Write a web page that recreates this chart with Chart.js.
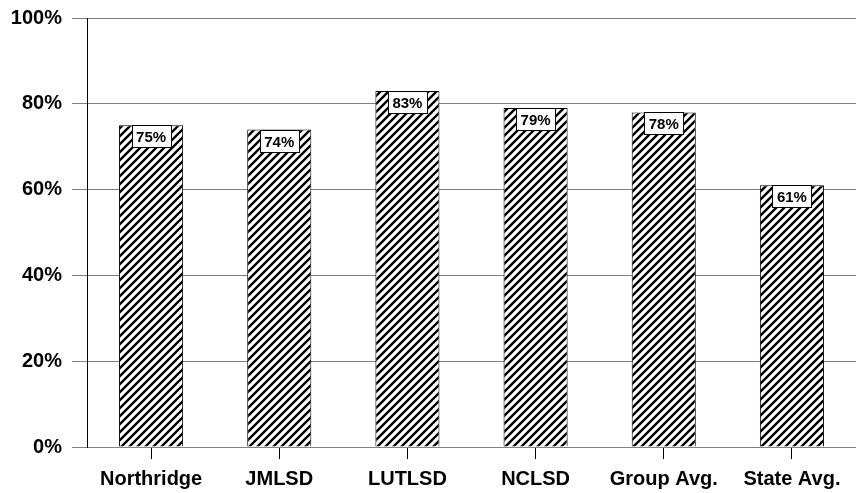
<!DOCTYPE html>
<html>
<head>
<meta charset="utf-8">
<script src="https://cdn.jsdelivr.net/npm/chart.js@4"></script>
<style>
  html, body { margin: 0; padding: 0; background: #fff; }
  #wrap { width: 856px; height: 493px; }
</style>
</head>
<body>
<div id="wrap"><canvas id="chart"></canvas></div>
<script>
'use strict';

var categories = ['Northridge', 'JMLSD', 'LUTLSD', 'NCLSD', 'Group Avg.', 'State Avg.'];
var values = [75, 74, 83, 79, 78, 61];
var yTicks = [0, 20, 40, 60, 80, 100];

// diagonal "/" hatch fill
function makeHatch() {
    var s = 8;
    var c = document.createElement('canvas');
    c.width = s; c.height = s;
    var g = c.getContext('2d');
    g.fillStyle = '#fff';
    g.fillRect(0, 0, s, s);
    g.strokeStyle = '#000';
    g.lineWidth = 2.4;
    g.beginPath();
    g.moveTo(0, s); g.lineTo(s, 0);
    g.moveTo(-1, 1); g.lineTo(1, -1);
    g.moveTo(s - 1, s + 1); g.lineTo(s + 1, s - 1);
    g.stroke();
    return g.createPattern(c, 'repeat');
}

var boxLabels = {
    id: 'boxLabels',
    afterDatasetsDraw: function (chart) {
        var ctx = chart.ctx;
        var meta = chart.getDatasetMeta(0);
        ctx.save();
        ctx.font = 'bold 15px "Liberation Sans", Arial, sans-serif';
        ctx.textAlign = 'center';
        ctx.textBaseline = 'middle';
        meta.data.forEach(function (bar, i) {
            var w = 39, h = 22;
            var x = Math.round(bar.x - w / 2) + 0.5;
            var y = Math.round(bar.y) + 0.5;
            ctx.fillStyle = '#fff';
            ctx.fillRect(x, y, w, h);
            ctx.strokeStyle = '#000';
            ctx.lineWidth = 1;
            ctx.strokeRect(x, y, w, h);
            ctx.fillStyle = '#000';
            ctx.fillText(values[i] + '%', bar.x, y + h / 2 + 1);
        });
        ctx.restore();
    }
};

var tickFont = { family: '"Liberation Sans", Arial, sans-serif', size: 20, weight: 'bold' };
var yTickFont = { family: '"Liberation Sans", Arial, sans-serif', size: 20, weight: 'bold', lineHeight: 0.8 };

var ctx = document.getElementById('chart').getContext('2d');
var chart = new Chart(ctx, {
    type: 'bar',
    data: {
        labels: categories,
        datasets: [{
            data: values,
            backgroundColor: makeHatch(),
            borderColor: '#000',
            borderWidth: 1,
            categoryPercentage: 1,
            barPercentage: 0.5
        }]
    },
    options: {
        responsive: true,
        maintainAspectRatio: false,
        animation: false,
        events: [],
        layout: { padding: { top: 0, right: 0, left: 0, bottom: 0 } },
        plugins: {
            legend: { display: false },
            tooltip: { enabled: false }
        },
        scales: {
            x: {
                grid: {
                    offset: false,
                    drawOnChartArea: false,
                    color: '#000',
                    tickLength: 12
                },
                border: { color: '#808080', width: 1 },
                ticks: { color: '#000', font: tickFont, padding: 8, maxRotation: 0 },
                afterFit: function (s) { s.height = 46; }
            },
            y: {
                min: 0,
                max: 100,
                afterBuildTicks: function (s) {
                    s.ticks = yTicks.map(function (v) { return { value: v }; });
                },
                grid: {
                    color: '#808080',
                    lineWidth: 1,
                    tickLength: 15
                },
                border: { color: '#000', width: 1 },
                ticks: {
                    color: '#000',
                    font: yTickFont,
                    padding: 10,
                    callback: function (v) { return v + '%'; }
                },
                afterFit: function (s) { s.width = 87; }
            }
        }
    },
    plugins: [boxLabels]
});
</script>
</body>
</html>
